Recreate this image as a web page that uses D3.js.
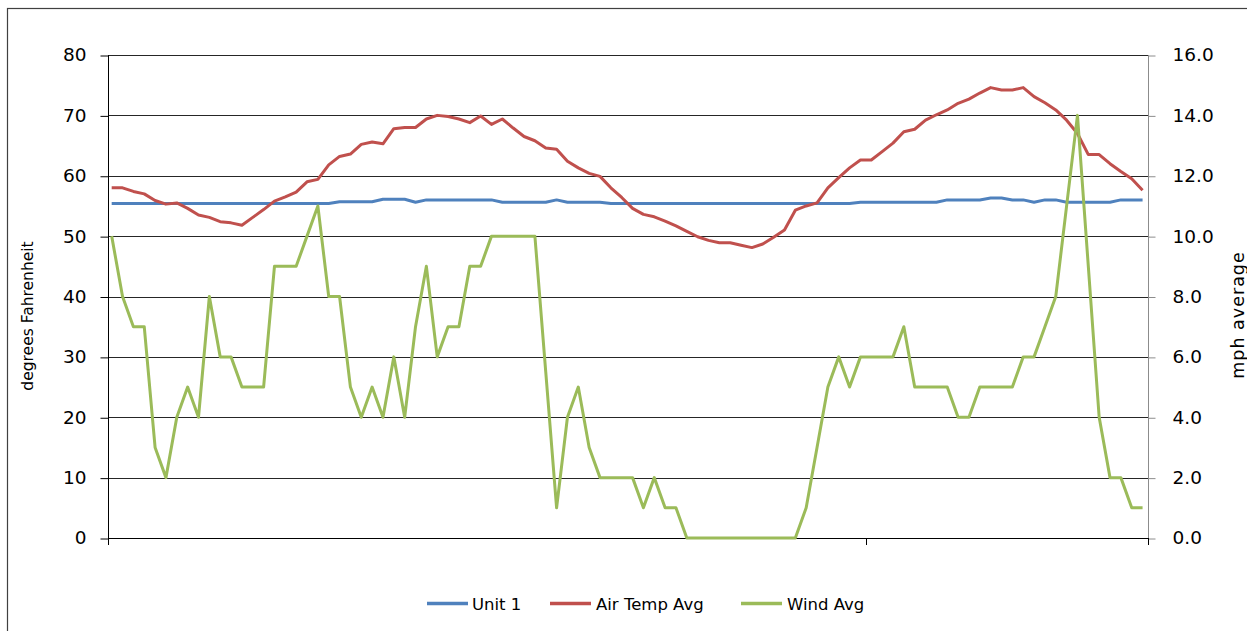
<!DOCTYPE html>
<html>
<head>
<meta charset="utf-8">
<script src="https://cdn.jsdelivr.net/npm/d3@7/dist/d3.min.js"></script>
<style>
  html, body { margin: 0; padding: 0; background: #fff; }
  svg { display: block; }
  text { font-family: "Comic Sans MS", "DejaVu Sans", sans-serif; fill: #000; }
</style>
</head>
<body>
<svg id="chart" width="1247" height="631"></svg>
<script>
// ---- Data ----
const samples = d3.range(96); // sample index along the time axis
const unit1 = [
  55.4,55.4,55.4,55.4,55.4,55.4,55.4,55.4,55.4,55.4,
  55.4,55.4,55.4,55.4,55.4,55.4,55.4,55.4,55.4,55.4,
  55.4,55.7,55.7,55.7,55.7,56.1,56.1,56.1,55.6,56.0,
  56.0,56.0,56.0,56.0,56.0,56.0,55.6,55.6,55.6,55.6,
  55.6,56.0,55.6,55.6,55.6,55.6,55.4,55.4,55.4,55.4,
  55.4,55.4,55.4,55.4,55.4,55.4,55.4,55.4,55.4,55.4,
  55.4,55.4,55.4,55.4,55.4,55.4,55.4,55.4,55.4,55.6,
  55.6,55.6,55.6,55.6,55.6,55.6,55.6,56.0,56.0,56.0,
  56.0,56.3,56.3,56.0,56.0,55.6,56.0,56.0,55.6,55.6,
  55.6,55.6,55.6,56.0,56.0,56.0
];
const airTemp = [
  58.0,58.0,57.4,57.0,55.9,55.3,55.5,54.6,53.5,53.1,
  52.4,52.2,51.8,53.1,54.4,55.8,56.5,57.3,59.0,59.4,
  61.8,63.2,63.6,65.2,65.6,65.3,67.8,68.0,68.0,69.4,
  70.0,69.8,69.4,68.8,69.9,68.5,69.4,67.9,66.5,65.8,
  64.6,64.4,62.4,61.3,60.4,59.9,58.0,56.4,54.6,53.6,
  53.2,52.5,51.7,50.8,49.9,49.3,48.9,48.9,48.5,48.1,
  48.7,49.8,51.0,54.3,55.0,55.5,58.0,59.7,61.3,62.6,
  62.6,64.0,65.4,67.3,67.7,69.2,70.1,70.9,72.0,72.7,
  73.7,74.6,74.2,74.2,74.6,73.1,72.1,70.9,69.2,67.0,
  63.5,63.5,62.0,60.7,59.5,57.6
];
const windAvg = [
  10,8,7,7,3,2,4,5,4,8,
  6,6,5,5,5,9,9,9,10,11,
  8,8,5,4,5,4,6,4,7,9,
  6,7,7,9,9,10,10,10,10,10,
  5.5,1,4,5,3,2,2,2,2,1,
  2,1,1,0,0,0,0,0,0,0,
  0,0,0,0,1,3,5,6,5,6,
  6,6,6,7,5,5,5,5,4,4,
  5,5,5,5,6,6,7,8,11,14,
  9,4,2,2,1,1
];
const leftTicks = [0,10,20,30,40,50,60,70,80];
const rightTicks = [0,2,4,6,8,10,12,14,16];
const xTickPositions = [-0.34, 69.5, 95.5];
const seriesNames = ["Unit 1", "Air Temp Avg", "Wind Avg"];
const seriesColors = ["#4F81BD", "#C0504D", "#9BBB59"];

// ---- Layout ----
const svg = d3.select("#chart");
const plot = { left: 108, right: 1148, top: 55, bottom: 538 };

const x = d3.scaleLinear().domain([-0.34, 95.5]).range([plot.left, plot.right]);
const yL = d3.scaleLinear().domain([0, 80]).range([plot.bottom, plot.top]);
const yR = d3.scaleLinear().domain([0, 16]).range([plot.bottom, plot.top]);

// outer frame
svg.append("rect")
  .attr("x", 7.5).attr("y", 8.5)
  .attr("width", 1260).attr("height", 640)
  .attr("fill", "none").attr("stroke", "#404040").attr("stroke-width", 1.2);

// gridlines
svg.append("g").selectAll("line").data(leftTicks.filter(d => d > 0)).join("line")
  .attr("x1", plot.left).attr("x2", plot.right)
  .attr("y1", d => Math.round(yL(d)) + 0.5).attr("y2", d => Math.round(yL(d)) + 0.5)
  .attr("stroke", "#262626").attr("stroke-width", 1.2);

// left axis
const gL = svg.append("g").attr("transform", `translate(${plot.left + 0.5},0)`)
  .call(d3.axisLeft(yL).tickValues(leftTicks).tickSize(8).tickPadding(14).tickFormat(d3.format("d")));
gL.select(".domain").remove();
gL.selectAll(".tick line").attr("stroke", "#000").attr("transform", "translate(0,0.5)");
gL.selectAll(".tick text").attr("font-size", 18.5).attr("font-family", "\"Comic Sans MS\", \"DejaVu Sans\", sans-serif");
svg.append("line").attr("x1", plot.left + 0.5).attr("x2", plot.left + 0.5)
  .attr("y1", plot.top).attr("y2", plot.bottom + 7).attr("stroke", "#000");

// right axis
const gR = svg.append("g").attr("transform", `translate(${plot.right + 0.5},0)`)
  .call(d3.axisRight(yR).tickValues(rightTicks).tickSize(7).tickPadding(17).tickFormat(d3.format(".1f")));
gR.select(".domain").remove();
gR.selectAll(".tick line").attr("stroke", "#8c8c8c").attr("transform", "translate(0,0.5)");
gR.selectAll(".tick text").attr("font-size", 18.5).attr("font-family", "\"Comic Sans MS\", \"DejaVu Sans\", sans-serif");
svg.append("line").attr("x1", plot.right + 0.5).attr("x2", plot.right + 0.5)
  .attr("y1", plot.top).attr("y2", plot.bottom).attr("stroke", "#8c8c8c");

// bottom axis
svg.append("line").attr("x1", plot.left).attr("x2", plot.right)
  .attr("y1", plot.bottom + 0.5).attr("y2", plot.bottom + 0.5).attr("stroke", "#000");
svg.append("g").selectAll("line").data(xTickPositions).join("line")
  .attr("x1", d => Math.round(x(d)) + 0.5).attr("x2", d => Math.round(x(d)) + 0.5)
  .attr("y1", plot.bottom).attr("y2", plot.bottom + 7).attr("stroke", "#000");

// axis titles
svg.append("text")
  .attr("transform", `translate(33,316) rotate(-90)`)
  .attr("text-anchor", "middle").attr("font-size", 15.5)
  .text("degrees Fahrenheit");
svg.append("text")
  .attr("transform", `translate(1244,315) rotate(-90)`)
  .attr("text-anchor", "middle").attr("font-size", 17.5).attr("letter-spacing", 1)
  .text("mph average");

// series lines
const lineL = d3.line().x((d, i) => x(samples[i])).y(d => yL(d));
const lineR = d3.line().x((d, i) => x(samples[i])).y(d => yR(d));

svg.append("path").datum(unit1).attr("d", lineL)
  .attr("fill", "none").attr("stroke", seriesColors[0]).attr("stroke-width", 3).attr("stroke-linejoin", "round");
svg.append("path").datum(airTemp).attr("d", lineL)
  .attr("fill", "none").attr("stroke", seriesColors[1]).attr("stroke-width", 3).attr("stroke-linejoin", "round");
svg.append("path").datum(windAvg).attr("d", lineR)
  .attr("fill", "none").attr("stroke", seriesColors[2]).attr("stroke-width", 3).attr("stroke-linejoin", "round");

// legend
const legendItems = [
  { x: 427, tx: 472 },
  { x: 550, tx: 596 },
  { x: 741, tx: 787 }
];
const lg = svg.append("g");
legendItems.forEach((it, i) => {
  lg.append("line").attr("x1", it.x).attr("x2", it.x + 41)
    .attr("y1", 603.5).attr("y2", 603.5)
    .attr("stroke", seriesColors[i]).attr("stroke-width", 3.5);
  lg.append("text").attr("x", it.tx).attr("y", 610)
    .attr("font-size", 16.5).text(seriesNames[i]);
});
</script>
</body>
</html>
